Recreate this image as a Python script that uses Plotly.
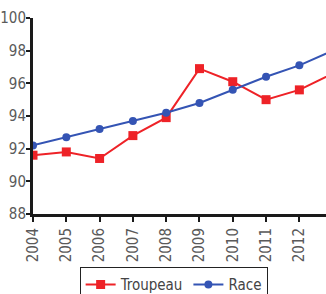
import plotly.graph_objects as go

years = [2004, 2005, 2006, 2007, 2008, 2009, 2010, 2011, 2012, 2013]
troupeau = [91.6, 91.8, 91.4, 92.8, 93.9, 96.9, 96.1, 95.0, 95.6, 96.6]
race = [92.2, 92.7, 93.2, 93.7, 94.2, 94.8, 95.6, 96.4, 97.1, 98.0]
year_ticks = [str(y) for y in years[:-1]]

fig = go.Figure()
fig.add_trace(go.Scatter(x=years, y=troupeau, name="Troupeau", mode="lines+markers",
                         line=dict(color="#ee2227", width=2),
                         marker=dict(symbol="square", size=9, color="#ee2227")))
fig.add_trace(go.Scatter(x=years, y=race, name="Race", mode="lines+markers",
                         line=dict(color="#3454b4", width=2),
                         marker=dict(symbol="circle", size=8, color="#3454b4")))

FONT = "DejaVu Sans Condensed, Roboto Condensed, Roboto, sans-serif"

fig.update_layout(
    width=326, height=294,
    margin=dict(l=33, r=0, t=18, b=80, autoexpand=False),
    paper_bgcolor="white", plot_bgcolor="white",
    font=dict(family=FONT, color="#5a5a5a", size=15),
    showlegend=True,
    legend=dict(orientation="h", x=0.48, xanchor="center", y=-0.272, yanchor="top",
                bordercolor="#222222", borderwidth=1, font=dict(size=15, color="#444444"),
                itemwidth=30, tracegroupgap=0, valign="middle"),
    xaxis=dict(range=[2004, 2012.8], tickvals=years[:-1], ticktext=year_ticks,
               tickangle=-90, showgrid=False, zeroline=False, automargin=False,
               showline=True, linecolor="#1a1a1a", linewidth=3,
               ticks="outside", ticklen=5, tickcolor="#1a1a1a", tickwidth=1.5),
    yaxis=dict(range=[88, 100], tickvals=[88, 90, 92, 94, 96, 98, 100],
               showgrid=False, zeroline=False, automargin=False,
               showline=True, linecolor="#1a1a1a", linewidth=3,
               ticks="outside", ticklen=4, tickcolor="#1a1a1a", tickwidth=1.5,
               ticklabelstandoff=-3),
)

fig.write_html("out.html", config={"displayModeBar": False},
               post_script="document.body.style.margin='0';document.body.style.overflow='hidden';")
